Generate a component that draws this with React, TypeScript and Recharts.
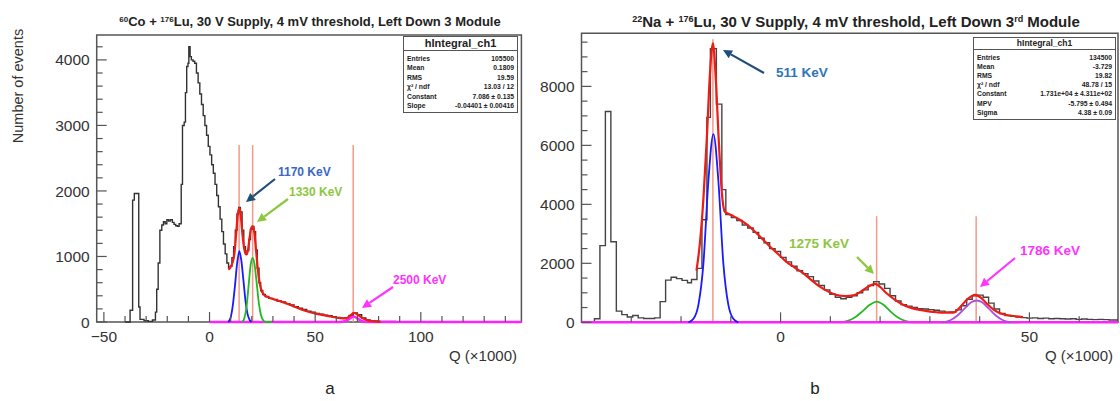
import React from "react";
import { ComposedChart, Line, XAxis, YAxis, ReferenceLine, ReferenceArea } from "recharts";

const FONT = '"Liberation Sans", Arial, sans-serif';

// ---- panel a: 60Co + 176Lu ----
// histogram bins [left edge, counts]
const coHist: [number, number][] = [
  [-40, 0], [-37.6, 180], [-36.4, 1860], [-35.6, 1960], [-33.5, 230], [-32.9, 40],
  [-31, 20], [-29, 10], [-27, 30], [-25.6, 150], [-25, 500], [-24.3, 900],
  [-23.5, 1400], [-22.6, 1480], [-21.8, 1530], [-21, 1500], [-20.2, 1560], [-19.4, 1540],
  [-18.6, 1560], [-17.6, 1520], [-16.8, 1490], [-16, 1470], [-15.2, 1460], [-14.4, 1500],
  [-13.4, 2100], [-12.8, 3000], [-12, 3050], [-11.4, 3500], [-10.8, 3900], [-10.2, 3950],
  [-9.8, 4200], [-9.2, 4050], [-8.6, 4000], [-7.8, 3980], [-7, 3950], [-6.2, 3800],
  [-5.4, 3650], [-4.6, 3480], [-3.8, 3320], [-3, 3150], [-2.2, 3000], [-1.4, 2850],
  [-0.6, 2680], [0.2, 2550], [1, 2400], [1.8, 2270], [2.6, 2100], [3.4, 1930],
  [4.2, 1760], [5, 1570], [5.8, 1380], [6.6, 1190], [7.4, 1040], [8.2, 900],
  [9, 830], [9.8, 850], [10.6, 980], [11.4, 1150], [12.2, 1400], [13, 1650],
  [13.8, 1750], [14.6, 1680], [15.4, 1400], [16.2, 1150], [17, 1040], [17.8, 1090],
  [18.6, 1260], [19.4, 1420], [20.2, 1460], [21, 1380], [21.8, 1100], [22.6, 820],
  [23.4, 600], [24.2, 480], [25.2, 420], [26.4, 390], [28, 360], [30, 345],
  [32, 320], [34, 305], [36, 280], [38, 260], [40, 235], [42, 210],
  [44, 190], [46, 165], [48, 150], [50, 130], [52, 120], [54, 105],
  [56, 95], [58, 80], [60, 70], [62, 58], [64, 60], [66, 100],
  [68, 140], [70, 110], [72, 60], [74, 30], [76, 20], [78, 15],
  [80, 10], [84, 8], [88, 5], [92, 3], [96, 2], [100, 0],
];
const coFit: [number, number][] = [
  [8.9, 800], [9.8, 830], [10.8, 900], [11.8, 1050], [12.6, 1350], [13.4, 1650],
  [14, 1740], [14.6, 1680], [15.4, 1400], [16.4, 1120], [17.4, 1030], [18.2, 1100],
  [19, 1300], [19.8, 1440], [20.4, 1460], [21.2, 1370], [22, 1100], [22.8, 820],
  [23.6, 620], [24.6, 480], [26, 410], [28, 375], [30, 350], [32, 330],
  [35, 300], [38, 265], [42, 210], [46, 165], [50, 132], [54, 105],
  [58, 80], [62, 58], [64.5, 55], [66.5, 95], [68.4, 140], [70.5, 100],
  [72.5, 55], [75, 25], [78, 10], [81, 2],
];
const coBlue: [number, number][] = [
  [8.8, 0], [10, 70], [11, 250], [12, 540], [13, 880], [14.1, 1080],
  [15, 950], [16, 650], [17, 330], [18, 120], [19, 30], [20, 0],
];
const coGreen: [number, number][] = [
  [15.5, 0], [16.5, 60], [17.5, 230], [18.5, 560], [19.5, 880], [20.4, 980],
  [21.3, 880], [22.3, 600], [23.3, 300], [24.3, 110], [25.3, 30], [26.5, 0], [29.5, 0],
];
const coMagenta: [number, number][] = [
  [0, 0], [62, 0], [64, 10], [66, 45], [68.2, 85], [70.4, 45], [72.4, 10], [74, 0], [147.6, 0],
];
const coMarks = [14.0, 20.4, 68.0];
const coMarkTop = 2700;
const coXTicks = [-50, -40, -30, -20, -10, 0, 10, 20, 30, 40, 50, 60, 70, 80, 90, 100, 110, 120, 130, 140];
const coXMajor = [-50, 0, 50, 100];
const coYTicks = Array.from({ length: 22 }, (_, i) => i * 200);
const coYMajor = [0, 1000, 2000, 3000, 4000];
const coStats: [string, string][] = [
  ["Entries", "105500"], ["Mean", "0.1809"], ["RMS", "19.59"],
  ["χ² / ndf", "13.03 / 12"], ["Constant", "7.086 ± 0.135"], ["Slope", "-0.04401 ± 0.00416"],
];

// ---- panel b: 22Na + 176Lu ----
const naHist: [number, number][] = [
  [-40, 0], [-37.4, 120], [-36.3, 2600], [-35.2, 7150], [-34.1, 2730], [-33, 380],
  [-31.9, 260], [-30.8, 180], [-29.7, 230], [-28.6, 150], [-27.5, 130], [-26.4, 130],
  [-25.3, 150], [-24.2, 700], [-23.1, 1430], [-22, 1530], [-20.9, 1480], [-19.8, 1420],
  [-18.7, 1340], [-17.9, 1450], [-16.8, 1830], [-15.8, 3480], [-14.8, 6950], [-14.1, 9280],
  [-12.9, 7400], [-11.8, 4500], [-11, 3650], [-9.9, 3550], [-8.8, 3450], [-7.7, 3300],
  [-6.6, 3200], [-5.5, 3050], [-4.4, 2850], [-3.3, 2700], [-2.2, 2500], [-1.1, 2400],
  [0, 2200], [1.1, 2050], [2.2, 1900], [3.3, 1750], [4.4, 1650], [5.5, 1550],
  [6.6, 1400], [7.7, 1250], [8.8, 1100], [9.9, 950], [11, 850], [12.1, 800],
  [13.2, 850], [14.3, 900], [15.4, 1000], [16.5, 1100], [17.6, 1250], [18.7, 1380],
  [19.8, 1300], [20.9, 1150], [22, 900], [23.1, 720], [24.2, 600], [25.3, 550],
  [26.4, 500], [27.5, 460], [28.6, 450], [29.7, 430], [30.8, 410], [31.9, 380],
  [33, 340], [34.1, 350], [35.2, 420], [36.3, 560], [37.4, 780], [38.5, 900],
  [39.6, 920], [40.7, 850], [41.8, 650], [42.9, 450], [44, 300], [45.1, 230],
  [46.2, 200], [47.3, 180], [48.4, 160], [49.5, 140], [50.6, 150], [51.7, 130],
  [52.8, 140], [53.9, 120], [55, 130], [56.1, 120], [57.2, 110], [58.3, 120],
  [59.4, 100], [60.5, 110], [61.6, 100], [62.7, 90], [63.8, 100], [64.9, 90],
  [66, 80], [67.8, 80],
];
const naFit: [number, number][] = [
  [-16.9, 1750], [-16.2, 2700], [-15.5, 4200], [-14.8, 6300], [-14.2, 8400], [-13.6, 9460],
  [-13, 8200], [-12.4, 6100], [-11.8, 4400], [-11.2, 3750], [-10.5, 3680], [-9.5, 3600],
  [-8.1, 3470], [-6.8, 3320], [-5.5, 3130], [-3.8, 2850], [-2.1, 2560], [-0.4, 2300],
  [1.2, 2050], [2.9, 1850], [4.6, 1660], [6.2, 1430], [7.9, 1210], [9.6, 1040],
  [11.3, 925], [13, 890], [14.6, 915], [16.6, 1095], [18, 1250], [19, 1300],
  [20, 1200], [21.3, 985], [23, 760], [24.7, 590], [26.4, 480], [28, 420],
  [29.7, 370], [31.4, 340], [33, 325], [34.7, 330], [36, 500], [37.5, 780],
  [39.1, 930], [40.3, 830], [41.4, 640], [42.8, 430], [44.1, 310], [46, 230], [48.7, 180],
];
const naBlue: [number, number][] = [
  [-18.5, 0], [-17.5, 120], [-16.5, 600], [-15.5, 2000], [-14.5, 4800], [-13.5, 6380],
  [-12.5, 4800], [-11.5, 2000], [-10.5, 600], [-9.5, 120], [-8.5, 0],
];
const naGreen: [number, number][] = [
  [12, 0], [13.5, 50], [15, 170], [16.5, 380], [18, 600], [19.3, 700],
  [20.6, 600], [22, 380], [23.5, 170], [25, 50], [26.7, 0], [48, 0],
];
const naViolet: [number, number][] = [
  [32.4, 0], [34, 60], [35.5, 220], [37, 470], [38.3, 680], [39.4, 740],
  [40.5, 680], [41.8, 470], [43.3, 220], [44.8, 60], [46.4, 0],
];
const naBase: [number, number][] = [[-40, 0], [12, 0], [26.7, 0], [32.4, 0], [67.8, 0]];
const naMarks: [number, number][] = [[-13.6, 9600], [19.3, 3600], [39.3, 3600]];
const naXTicks = [-30, -20, -10, 0, 10, 20, 30, 40, 50, 60];
const naXMajor = [0, 50];
const naYTicks = Array.from({ length: 20 }, (_, i) => i * 500);
const naYMajor = [0, 2000, 4000, 6000, 8000];
const naStats: [string, string][] = [
  ["Entries", "134500"], ["Mean", "-3.729"], ["RMS", "19.82"], ["χ² / ndf", "48.78 / 15"],
  ["Constant", "1.731e+04 ± 4.311e+02"], ["MPV", "-5.795 ± 0.494"], ["Sigma", "4.38 ± 0.09"],
];

const toPts = (a: [number, number][]) => a.map(([x, y]) => ({ x, y }));
const fmt = (v: number) => (v < 0 ? "−" + Math.abs(v) : String(v));

const makeYTick = (majors: number[]) => (props: any) => {
  const { x, y, payload } = props;
  const major = majors.includes(payload.value);
  return (
    <g>
      <line x1={x} x2={x + (major ? 10 : 6)} y1={y} y2={y} stroke="#555" strokeWidth={1.2} />
      {major && (
        <text x={x - 7} y={y} dy="0.36em" textAnchor="end" fontSize={15.5} fill="#333" fontFamily={FONT}>
          {fmt(payload.value)}
        </text>
      )}
    </g>
  );
};

const makeXTick = (majors: number[]) => (props: any) => {
  const { x, y, payload } = props;
  const major = majors.includes(payload.value);
  return (
    <g>
      <line x1={x} x2={x} y1={y} y2={y - (major ? 10 : 6)} stroke="#555" strokeWidth={1.2} />
      {major && (
        <text x={x} y={y + 20} textAnchor="middle" fontSize={15.5} fill="#333" fontFamily={FONT}>
          {fmt(payload.value)}
        </text>
      )}
    </g>
  );
};

const Arrow = ({ x1, y1, x2, y2, color }: { x1: number; y1: number; x2: number; y2: number; color: string }) => {
  const a = Math.atan2(y2 - y1, x2 - x1);
  const L = 9, W = 4.5;
  const bx = x2 - L * Math.cos(a), by = y2 - L * Math.sin(a);
  const pts = `${x2},${y2} ${bx + W * Math.sin(a)},${by - W * Math.cos(a)} ${bx - W * Math.sin(a)},${by + W * Math.cos(a)}`;
  return (
    <g>
      <line x1={x1} y1={y1} x2={bx} y2={by} stroke={color} strokeWidth={2.2} />
      <polygon points={pts} fill={color} />
    </g>
  );
};

const StatsBox = ({ left, top, width, title, rows, titleSize, rowH }: any) => (
  <div style={{ position: "absolute", left, top, width, border: "1.5px solid #555", background: "#fff", fontFamily: FONT, color: "#222" }}>
    <div style={{ textAlign: "center", fontWeight: "bold", fontSize: titleSize, lineHeight: titleSize + 2 + "px", borderBottom: "1px solid #555" }}>
      {title}
    </div>
    <div style={{ padding: "3px 3px 2px" }}>
      {rows.map(([k, v]: [string, string]) => (
        <div key={k} style={{ display: "flex", justifyContent: "space-between", fontSize: 6.8, fontWeight: "bold", lineHeight: rowH + "px" }}>
          <span>{k}</span>
          <span>{v}</span>
        </div>
      ))}
    </div>
  </div>
);

const sup = (t: string, size: number) => <span style={{ fontSize: size, position: "relative", top: -size * 0.55 }}>{t}</span>;

const line = (data: [number, number][], stroke: string, w: number, type: any = "monotone") => (
  <Line data={toPts(data)} dataKey="y" type={type} stroke={stroke} strokeWidth={w} dot={false} activeDot={false} isAnimationActive={false} />
);

export default function App() {
  const coX: [number, number] = [-53.4, 147.6];
  const coY: [number, number] = [0, 4380];
  const naX: [number, number] = [-40, 67.8];
  const naY: [number, number] = [0, 9800];
  return (
    <div style={{ position: "absolute", left: 0, top: 0, width: 1120, height: 401, overflow: "hidden", background: "#fff", fontFamily: FONT }}>
      <div style={{ position: "absolute", left: 0, top: 0 }}>
        <ComposedChart width={560} height={401} margin={{ top: 35, right: 38.6, bottom: 39, left: 36.7 }}>
          <XAxis dataKey="x" type="number" domain={coX} ticks={coXTicks} interval={0} height={40}
            axisLine={false} tickLine={false} tickSize={0} tickMargin={0} tick={makeXTick(coXMajor)} />
          <YAxis type="number" domain={coY} ticks={coYTicks} interval={0} width={60}
            axisLine={false} tickLine={false} tickSize={0} tickMargin={0} tick={makeYTick(coYMajor)} />
          <ReferenceArea x1={coX[0]} x2={coX[1]} y1={coY[0]} y2={coY[1]} fill="none" stroke="#555" strokeWidth={1.5} />
          {coMarks.map((m) => (
            <ReferenceLine key={m} segment={[{ x: m, y: 0 }, { x: m, y: coMarkTop }]} stroke="#f29a8a" strokeWidth={1.5} />
          ))}
          {line(coHist, "#333", 1.4, "stepAfter")}
          {line(coMagenta, "#ff22ff", 2.6)}
          {line(coBlue, "#1a1aff", 1.8)}
          {line(coGreen, "#22b822", 1.8)}
          {line(coFit, "#ee1c14", 2.2)}
        </ComposedChart>
      </div>
      <div style={{ position: "absolute", left: 540, top: 0 }}>
        <ComposedChart width={580} height={401} margin={{ top: 33.3, right: 2, bottom: 38.7, left: 1.5 }}>
          <XAxis dataKey="x" type="number" domain={naX} ticks={naXTicks} interval={0} height={40}
            axisLine={false} tickLine={false} tickSize={0} tickMargin={0} tick={makeXTick(naXMajor)} />
          <YAxis type="number" domain={naY} ticks={naYTicks} interval={0} width={40}
            axisLine={false} tickLine={false} tickSize={0} tickMargin={0} tick={makeYTick(naYMajor)} />
          <ReferenceArea x1={naX[0]} x2={naX[1]} y1={naY[0]} y2={naY[1]} fill="none" stroke="#555" strokeWidth={1.5} />
          {naMarks.map(([m, top]) => (
            <ReferenceLine key={m} segment={[{ x: m, y: 0 }, { x: m, y: top }]} stroke="#f29a8a" strokeWidth={1.5} />
          ))}
          {line(naHist, "#444", 1.4, "stepAfter")}
          {line(naGreen, "#22b822", 1.8)}
          {line(naBase, "#ff22ff", 2.6, "linear")}
          {line(naBlue, "#1a1aff", 1.8)}
          {line(naViolet, "#b04be0", 1.8)}
          {line(naFit, "#ee1c14", 2.2)}
        </ComposedChart>
      </div>

      <div style={{ position: "absolute", left: 310, top: 14, transform: "translateX(-50%)", whiteSpace: "nowrap", fontWeight: "bold", fontSize: 13, color: "#222" }}>
        {sup("60", 8)}Co + {sup("176", 8)}Lu, 30 V Supply, 4 mV threshold, Left Down 3 Module
      </div>
      <div style={{ position: "absolute", left: 856, top: 13, transform: "translateX(-50%)", whiteSpace: "nowrap", fontWeight: "bold", fontSize: 15, color: "#222" }}>
        {sup("22", 9)}Na + {sup("176", 9)}Lu, 30 V Supply, 4 mV threshold, Left Down 3{sup("rd", 9)} Module
      </div>

      <div style={{ position: "absolute", left: 18, top: 86, transform: "translate(-50%, -50%) rotate(-90deg)", whiteSpace: "nowrap", fontSize: 14.5, color: "#333" }}>
        Number of events
      </div>

      <StatsBox left={403} top={36} width={113} title="hIntegral_ch1" rows={coStats} titleSize={11} rowH={9.4} />
      <StatsBox left={973} top={37} width={141} title="hIntegral_ch1" rows={naStats} titleSize={8.5} rowH={9.2} />

      <div style={{ position: "absolute", left: 417, width: 100, top: 347, textAlign: "right", fontSize: 15, color: "#333" }}>Q (×1000)</div>
      <div style={{ position: "absolute", left: 1013, width: 100, top: 347, textAlign: "right", fontSize: 15, color: "#333" }}>Q (×1000)</div>
      <div style={{ position: "absolute", left: 320, width: 20, top: 379, textAlign: "center", fontSize: 17, color: "#222" }}>a</div>
      <div style={{ position: "absolute", left: 805, width: 20, top: 379, textAlign: "center", fontSize: 17, color: "#222" }}>b</div>

      <svg width={1120} height={401} style={{ position: "absolute", left: 0, top: 0, pointerEvents: "none" }}>
        <g fontFamily={FONT} fontWeight="bold">
          <Arrow x1={275} y1={179} x2={246} y2={202} color="#1f4e79" />
          <text x={278} y={176} fontSize={12} fill="#3a66c4">1170 KeV</text>
          <Arrow x1={288} y1={199} x2={257} y2={222} color="#8dc63f" />
          <text x={289} y={196} fontSize={12} fill="#8dc63f">1330 KeV</text>
          <Arrow x1={393} y1={287} x2={362} y2={308} color="#ff33ff" />
          <text x={393} y={284} fontSize={12} fill="#ff33ff">2500 KeV</text>
          <Arrow x1={764} y1={73} x2={723} y2={50} color="#1f4e79" />
          <text x={776} y={77} fontSize={13.5} fill="#2e75b6">511 KeV</text>
          <Arrow x1={857} y1={257} x2={874} y2={274} color="#8dc63f" />
          <text x={789} y={248} fontSize={13.5} fill="#8dc63f">1275 KeV</text>
          <Arrow x1={1015} y1={258} x2={980} y2={287} color="#ff33ff" />
          <text x={1020} y={255} fontSize={13.5} fill="#ff33ff">1786 KeV</text>
        </g>
      </svg>
    </div>
  );
}
